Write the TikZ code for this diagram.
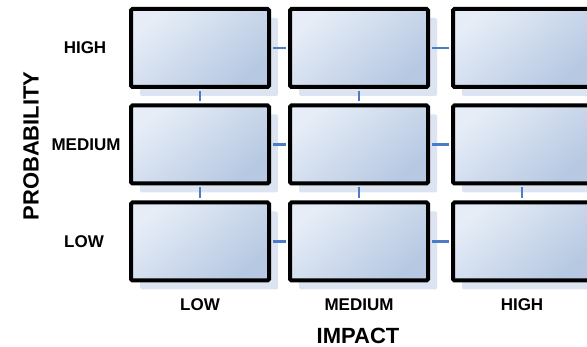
\documentclass[tikz,border=0pt]{standalone}
\usepackage{fontspec}
\setmainfont{Liberation Sans}
\usetikzlibrary{shadows}
\definecolor{boxlight}{HTML}{E6EDF7}
\definecolor{boxdark}{HTML}{B6C8E2}
\definecolor{shadowblue}{HTML}{DCE4F2}
\definecolor{linkblue}{HTML}{4A7CC8}

\begin{document}
\begin{tikzpicture}[
x=1pt,y=-1pt,
cell/.style={draw=black,line width=4pt,rounded corners=1.5pt,inner sep=0pt,
  minimum width=138pt,minimum height=78pt,
  top color=boxlight,bottom color=boxdark,shading angle=40,
  drop shadow={shadow xshift=9pt,shadow yshift=-9pt,fill=shadowblue,opacity=1}},
link/.style={draw=linkblue,line width=2.4pt,shorten <=2pt,shorten >=2pt},
lbl/.style={font=\fontsize{17}{20}\selectfont\bfseries,inner sep=0pt},
axis/.style={font=\fontsize{22}{26}\selectfont\bfseries,inner sep=0pt} ]

\useasboundingbox (0,0) rectangle (587,347);

% matrix cells: probability (row) x impact (column)
\node[cell](HL) at (200,48) {};
\node[cell](HM) at (359,48) {};
\node[cell](HH) at (522,48) {};

\node[cell](ML) at (200,144.5) {};
\node[cell](MM) at (359,144.5) {};
\node[cell](MH) at (522,144.5) {};

\node[cell](LL) at (200,241.5) {};
\node[cell](LM) at (359,241.5) {};
\node[cell](LH) at (522,241.5) {};

% connectors
\draw[link] (HL) -- (HM);
\draw[link] (HM) -- (HH);
\draw[link] (ML) -- (MM);
\draw[link] (MM) -- (MH);
\draw[link] (LL) -- (LM);
\draw[link] (LM) -- (LH);

\draw[link] (HL) -- (ML);
\draw[link] (HM) -- (MM);
\draw[link] (ML) -- (LL);
\draw[link] (MM) -- (LM);
\draw[link] (MH) -- (LH);

% row labels
\node[lbl](pHigh) at (85,48) {HIGH};
\node[lbl](pMed) at (86,144.5) {MEDIUM};
\node[lbl](pLow) at (84,241.5) {LOW};

% column labels
\node[lbl](iLow) at (200,305) {LOW};
\node[lbl](iMed) at (359,305) {MEDIUM};
\node[lbl](iHigh) at (522,305) {HIGH};

% axis titles
\node[axis,rotate=90](prob) at (31,146) {PROBABILITY};
\node[axis](impact) at (358,336) {IMPACT};

\end{tikzpicture}
\end{document}
